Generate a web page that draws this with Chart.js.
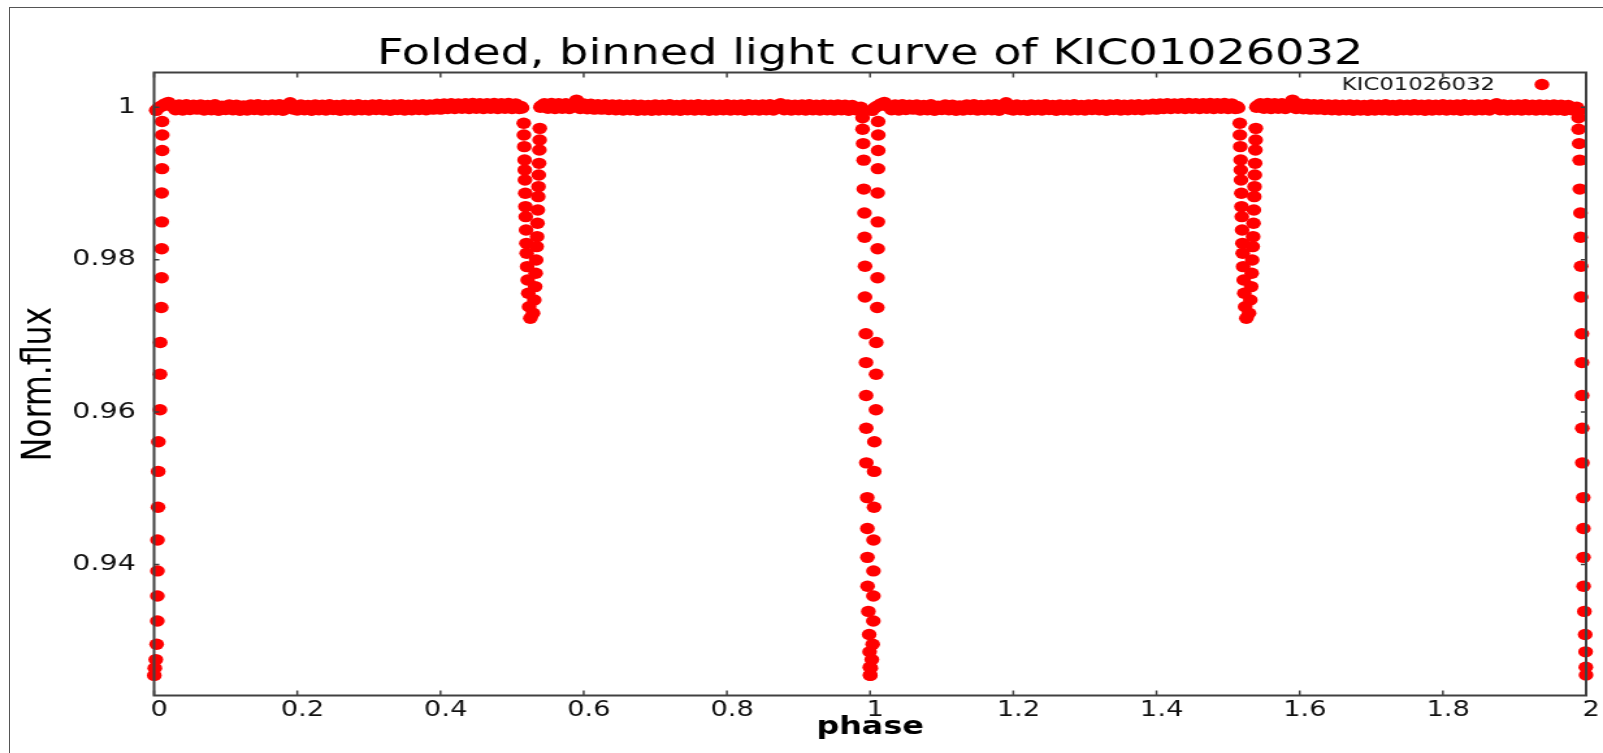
<!DOCTYPE html>
<html>
<head>
<meta charset="utf-8">
<title>Folded light curve</title>
<script src="https://cdn.jsdelivr.net/npm/chart.js@4.4.1/dist/chart.umd.min.js"></script>
<style>
  html, body { margin: 0; padding: 0; background: #fff; }
  #page { position: relative; width: 1603px; height: 753px; overflow: hidden; }
  #frame { position: absolute; left: 9px; top: 7px; right: 0; bottom: 0; border-left: 1px solid #555; border-top: 1px solid #555; }
  /* the source picture is a gnuplot png stretched sideways, so the whole chart is too */
  #stretch { position: absolute; left: 0; top: 0; width: 1233px; height: 753px; transform: scale(1.30008, 1); transform-origin: 0 0; }
</style>
</head>
<body>
<div id="page">
  <div id="frame"></div>
  <div id="stretch"><canvas id="lc" width="1233" height="753"></canvas></div>
</div>
<script>
const titleText = "Folded, binned light curve of KIC01026032";
const seriesLabel = "KIC01026032";
const xTitle = "phase";
const yTitle = "Norm.flux";

const xTicks = [0, 0.2, 0.4, 0.6, 0.8, 1, 1.2, 1.4, 1.6, 1.8, 2];
const xTickLabels = ["0", "0.2", "0.4", "0.6", "0.8", "1", "1.2", "1.4", "1.6", "1.8", "2"];
const yTicks = [0.94, 0.96, 0.98, 1];
const yTickLabels = ["0.94", "0.96", "0.98", "1"];
const yMin = 0.92281, yMax = 1.00457;

// phase 0..1, the plot shows it twice (0..2)
// out of eclipse bins
const basePhase = [
  0.015, 0.020, 0.025, 0.030, 0.035, 0.040, 0.045, 0.050, 0.055, 0.060,
  0.065, 0.070, 0.075, 0.080, 0.085, 0.090, 0.095, 0.100, 0.105, 0.110,
  0.115, 0.120, 0.125, 0.130, 0.135, 0.140, 0.145, 0.150, 0.155, 0.160,
  0.165, 0.170, 0.175, 0.180, 0.185, 0.190, 0.195, 0.200, 0.205, 0.210,
  0.215, 0.220, 0.225, 0.230, 0.235, 0.240, 0.245, 0.250, 0.255, 0.260,
  0.265, 0.270, 0.275, 0.280, 0.285, 0.290, 0.295, 0.300, 0.305, 0.310,
  0.315, 0.320, 0.325, 0.330, 0.335, 0.340, 0.345, 0.350, 0.355, 0.360,
  0.365, 0.370, 0.375, 0.380, 0.385, 0.390, 0.395, 0.400, 0.405, 0.410,
  0.415, 0.420, 0.425, 0.430, 0.435, 0.440, 0.445, 0.450, 0.455, 0.460,
  0.465, 0.470, 0.475, 0.480, 0.485, 0.490, 0.495, 0.500, 0.505, 0.510,
  0.545, 0.550, 0.555, 0.560, 0.565, 0.570, 0.575, 0.580, 0.585, 0.590,
  0.595, 0.600, 0.605, 0.610, 0.615, 0.620, 0.625, 0.630, 0.635, 0.640,
  0.645, 0.650, 0.655, 0.660, 0.665, 0.670, 0.675, 0.680, 0.685, 0.690,
  0.695, 0.700, 0.705, 0.710, 0.715, 0.720, 0.725, 0.730, 0.735, 0.740,
  0.745, 0.750, 0.755, 0.760, 0.765, 0.770, 0.775, 0.780, 0.785, 0.790,
  0.795, 0.800, 0.805, 0.810, 0.815, 0.820, 0.825, 0.830, 0.835, 0.840,
  0.845, 0.850, 0.855, 0.860, 0.865, 0.870, 0.875, 0.880, 0.885, 0.890,
  0.895, 0.900, 0.905, 0.910, 0.915, 0.920, 0.925, 0.930, 0.935, 0.940,
  0.945, 0.950, 0.955, 0.960, 0.965, 0.970, 0.975, 0.980, 0.985
];
const baseFlux = [
  1.00045, 1.00065, 1.00016, 0.99968, 1.00032, 0.99965, 1.00035, 0.99971, 1.00029, 0.99976,
  1.00032, 0.99965, 1.00024, 0.99968, 1.00035, 0.99962, 1.00016, 0.99971, 1.00032, 0.99968,
  1.00029, 0.99962, 1.00019, 0.99965, 1.00032, 0.99971, 1.00035, 0.99965, 1.00024, 0.99968,
  1.00032, 0.99968, 1.00035, 0.99962, 1.00029, 1.00060, 0.99976, 0.99965, 1.00032, 0.99968,
  1.00024, 0.99962, 1.00032, 0.99968, 1.00029, 0.99965, 1.00035, 0.99971, 1.00024, 0.99962,
  1.00032, 0.99968, 1.00029, 0.99965, 1.00035, 0.99968, 1.00024, 0.99965, 1.00032, 0.99971,
  1.00035, 0.99968, 1.00029, 0.99962, 1.00032, 0.99971, 1.00035, 0.99965, 1.00029, 0.99968,
  1.00032, 0.99971, 1.00035, 0.99968, 1.00032, 0.99976, 1.00040, 0.99976, 1.00045, 0.99984,
  1.00048, 0.99984, 1.00045, 0.99987, 1.00048, 0.99984, 1.00051, 0.99987, 1.00048, 0.99984,
  1.00048, 0.99987, 1.00051, 0.99984, 1.00048, 0.99987, 1.00051, 0.99984, 1.00045, 0.99984,
  1.00048, 0.99987, 1.00051, 0.99984, 1.00048, 0.99987, 1.00048, 0.99984, 1.00045, 1.00095,
  0.99984, 1.00045, 0.99981, 1.00040, 0.99976, 1.00035, 0.99976, 1.00035, 0.99971, 1.00032,
  0.99968, 1.00032, 0.99965, 1.00029, 0.99968, 1.00032, 0.99962, 1.00029, 0.99965, 1.00024,
  0.99962, 1.00032, 0.99965, 1.00029, 0.99968, 1.00035, 0.99965, 1.00024, 0.99962, 1.00032,
  0.99968, 1.00029, 0.99965, 1.00035, 0.99968, 1.00029, 0.99962, 1.00032, 0.99965, 1.00029,
  0.99968, 1.00035, 0.99965, 1.00029, 0.99968, 1.00032, 0.99962, 1.00035, 0.99968, 1.00029,
  0.99965, 1.00032, 0.99968, 1.00035, 0.99965, 1.00029, 1.00048, 0.99968, 1.00032, 0.99965,
  1.00029, 0.99968, 1.00032, 0.99965, 1.00035, 0.99968, 1.00029, 0.99965, 1.00032, 0.99968,
  1.00029, 0.99965, 1.00032, 0.99968, 1.00029, 0.99962, 1.00024, 0.99968, 0.99976
];

// bins at the shoulders of the eclipses
const edgePhase = [0.0030, 0.0060, 0.0090, 0.0120, 0.9870, 0.9880, 0.9895, 0.5125, 0.5140, 0.5395, 0.5410];
const edgeFlux  = [0.9996, 0.9999, 1.0001, 1.0002, 1.0000, 0.9998, 0.9995, 1.0001, 0.9999, 1.0000, 1.0002];

// primary eclipse, ingress (before phase 1) and egress (after phase 0)
const priInPhase = [0.9895, 0.9895, 0.9903, 0.9910, 0.9912, 0.9921, 0.9923, 0.9929, 0.9928, 0.9941, 0.9943, 0.9944,
  0.9946, 0.9947, 0.9960, 0.9962, 0.9963, 0.9965, 0.9976, 0.9987, 0.9993, 0.9996, 0.9999];
const priInFlux = [0.99863, 0.99712, 0.99524, 0.99307, 0.98927, 0.98613, 0.98294, 0.97915, 0.97510, 0.97029, 0.96650, 0.96219,
  0.95789, 0.95334, 0.94878, 0.94473, 0.94094, 0.93714, 0.93385, 0.93081, 0.92854, 0.92651, 0.92550];
const priOutPhase = [0.0112, 0.0114, 0.0113, 0.0110, 0.0106, 0.0108, 0.0106, 0.0104, 0.0100, 0.0086, 0.0084, 0.0082,
  0.0060, 0.0057, 0.0055, 0.0048, 0.0047, 0.0046, 0.0045, 0.0036, 0.0024, 0.0010, 0.0003];
const priOutFlux = [0.99813, 0.99636, 0.99433, 0.99195, 0.98876, 0.98497, 0.98143, 0.97763, 0.97373, 0.96913, 0.96497, 0.96032,
  0.95612, 0.95222, 0.94751, 0.94321, 0.93916, 0.93587, 0.93258, 0.92954, 0.92752, 0.92640, 0.92545];

// secondary eclipse
const secInPhase = [0.5163, 0.5165, 0.5170, 0.5175, 0.5177, 0.5180, 0.5185, 0.5187, 0.5191, 0.5195, 0.5200, 0.5204,
  0.5210, 0.5218, 0.5226, 0.5238, 0.5255];
const secInFlux = [0.99790, 0.99637, 0.99484, 0.99309, 0.99178, 0.99046, 0.98872, 0.98697, 0.98565, 0.98390, 0.98215, 0.98084,
  0.97909, 0.97734, 0.97559, 0.97384, 0.97231];
const secOutPhase = [0.5387, 0.5385, 0.5381, 0.5377, 0.5373, 0.5369, 0.5365, 0.5360, 0.5355, 0.5349, 0.5343, 0.5336,
  0.5329, 0.5322, 0.5310, 0.5292];
const secOutFlux = [0.99724, 0.99571, 0.99440, 0.99265, 0.99112, 0.98959, 0.98828, 0.98653, 0.98478, 0.98303, 0.98172, 0.97997,
  0.97822, 0.97647, 0.97472, 0.97297];

let points = [];
function addPoints(ph, fl) {
  for (let k = 0; k < 2; k++) {
    for (let i = 0; i < ph.length; i++) {
      points.push({ x: ph[i] + k, y: fl[i] });
    }
  }
}
addPoints(basePhase, baseFlux);
addPoints(edgePhase, edgeFlux);
addPoints(priInPhase, priInFlux);
addPoints(priOutPhase, priOutFlux);
addPoints(secInPhase, secInFlux);
addPoints(secOutPhase, secOutFlux);

const fontFam = '"DejaVu Sans", sans-serif';

// gnuplot style border with mirrored inward tics
const framePlugin = {
  id: "frame",
  afterDatasetsDraw(chart) {
    const ctx = chart.ctx;
    const a = chart.chartArea;
    const x = chart.scales.x, y = chart.scales.y;
    ctx.save();
    ctx.strokeStyle = "#404040";
    ctx.lineWidth = 1.5;
    ctx.beginPath();
    x.ticks.forEach(t => {
      const px = x.getPixelForValue(t.value);
      ctx.moveTo(px, a.bottom); ctx.lineTo(px, a.bottom - 5);
      ctx.moveTo(px, a.top); ctx.lineTo(px, a.top + 5);
    });
    y.ticks.forEach(t => {
      const py = y.getPixelForValue(t.value);
      ctx.moveTo(a.left, py); ctx.lineTo(a.left + 4, py);
      ctx.moveTo(a.right, py); ctx.lineTo(a.right - 4, py);
    });
    ctx.stroke();
    ctx.lineWidth = 2;
    ctx.strokeRect(a.left, a.top, a.right - a.left, a.bottom - a.top);
    ctx.restore();
  }
};

// key in the top right corner: text first, then the sample point
const keyPlugin = {
  id: "key",
  afterDraw(chart) {
    const ds = chart.data.datasets[0];
    const ctx = chart.ctx;
    const a = chart.chartArea;
    ctx.save();
    ctx.font = "17.5px " + fontFam;
    ctx.fillStyle = "#111";
    ctx.textAlign = "right";
    ctx.textBaseline = "middle";
    ctx.fillText(ds.label, a.right - 70, a.top + 13);
    ctx.fillStyle = ds.backgroundColor;
    ctx.beginPath();
    ctx.arc(a.right - 34, a.top + 12, ds.pointRadius, 0, Math.PI * 2);
    ctx.fill();
    ctx.restore();
  }
};

new Chart(document.getElementById("lc"), {
  type: "scatter",
  data: {
    datasets: [{
      label: seriesLabel,
      data: points,
      backgroundColor: "#ff0000",
      borderWidth: 0,
      pointRadius: 5.7,
      pointHoverRadius: 5.7,
      clip: false
    }]
  },
  options: {
    responsive: false,
    animation: false,
    events: [],
    layout: { padding: { left: 0, right: 13, top: 0, bottom: 0 } },
    plugins: {
      legend: { display: false },
      tooltip: { enabled: false },
      title: {
        display: true,
        text: titleText,
        fullSize: false,
        color: "#000",
        font: { family: fontFam, size: 35.5, weight: "normal", lineHeight: 1.0 },
        padding: { top: 37, bottom: 0 }
      }
    },
    scales: {
      x: {
        type: "linear",
        min: 0,
        max: 2,
        afterFit: s => { s.height = 57.5; },
        afterBuildTicks: s => { s.ticks = xTicks.map(v => ({ value: v })); },
        ticks: {
          autoSkip: false,
          maxRotation: 0,
          padding: 2,
          labelOffset: 4,
          color: "#111",
          font: { family: fontFam, size: 21 },
          callback: (v, i) => xTickLabels[i]
        },
        grid: { display: false, drawTicks: false },
        border: { display: false },
        title: {
          display: true,
          text: xTitle,
          color: "#000",
          font: { family: fontFam, size: 24.5, weight: "bold" },
          padding: { top: 0, bottom: 11 }
        }
      },
      y: {
        type: "linear",
        min: yMin,
        max: yMax,
        afterFit: s => { s.width = 118.5; },
        afterBuildTicks: s => { s.ticks = yTicks.map(v => ({ value: v })); },
        ticks: {
          autoSkip: false,
          padding: 14,
          color: "#111",
          font: { family: fontFam, size: 22 },
          callback: (v, i) => yTickLabels[i]
        },
        grid: { display: false, drawTicks: false },
        border: { display: false },
        title: {
          display: true,
          text: yTitle,
          color: "#000",
          font: { family: fontFam, size: 31.5 },
          padding: { top: 12, bottom: 0 }
        }
      }
    }
  },
  plugins: [framePlugin, keyPlugin]
});
</script>
</body>
</html>
